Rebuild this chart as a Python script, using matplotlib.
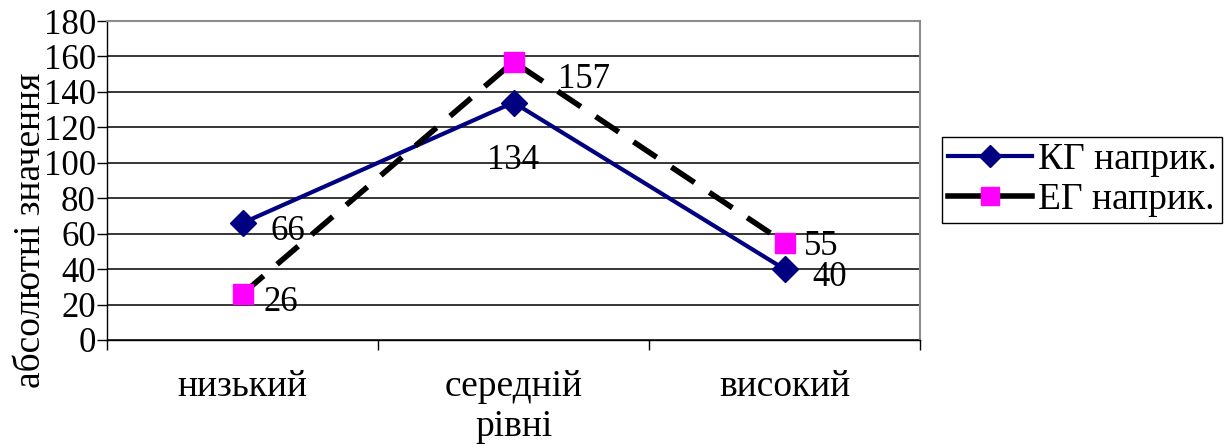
import matplotlib
matplotlib.use("Agg")
import matplotlib.pyplot as plt
from matplotlib.lines import Line2D

plt.rcParams['font.family'] = ['Liberation Serif', 'DejaVu Serif']

categories = ["низький", "середній", "високий"]
kg_values = [66, 134, 40]
eg_values = [26, 157, 55]
series_names = ["КГ наприк.", "ЕГ наприк."]
y_ticks = [0, 20, 40, 60, 80, 100, 120, 140, 160, 180]
x_title = "рівні"
y_title = "абсолютні значення"

FS = 25      # numbers
FS_TXT = 27  # words

fig = plt.figure(figsize=(12.31, 4.44), dpi=100)
ax = fig.add_axes([107 / 1231, 1 - 340 / 444, (920 - 107) / 1231, (340 - 21) / 444])

x = list(range(len(categories)))

ax.set_ylim(0, 180)
ax.set_xlim(-0.5, len(categories) - 0.5)

ax.set_yticks(y_ticks)
ax.set_yticklabels([str(v) for v in y_ticks], fontsize=FS)
ax.yaxis.grid(True, color="black", linewidth=1.1)
ax.set_axisbelow(True)

ax.set_xticks(x)
ax.set_xticklabels(categories, fontsize=FS_TXT)
ax.set_xticks([i - 0.5 for i in range(len(categories) + 1)], minor=True)
ax.tick_params(axis="x", which="major", length=0, pad=21)
ax.tick_params(axis="x", which="minor", length=7, width=1, direction="out")
ax.tick_params(axis="y", length=7, width=1, direction="out", pad=1)

for side in ("top", "right"):
    ax.spines[side].set_color("#8c8c8c")
    ax.spines[side].set_linewidth(1.5)
for side in ("left", "bottom"):
    ax.spines[side].set_color("black")
    ax.spines[side].set_linewidth(1.0)

ax.plot(x, kg_values, color="#000080", linewidth=3, marker="D",
        markersize=13, markerfacecolor="#000080", markeredgecolor="#000080",
        zorder=3)
ax.plot(x, eg_values, color="black", linewidth=4, linestyle=(0, (5, 3.2)),
        marker="s", markersize=14, markerfacecolor="#ff00ff",
        markeredgecolor="#ff00ff", zorder=4)

# value labels next to each point
kg_offsets = [(20, -6), (0, -42), (20, -6)]
kg_align = ["left", "center", "left"]
for xi, v, off, ha in zip(x, kg_values, kg_offsets, kg_align):
    ax.annotate(str(v), (xi, v), xytext=off, textcoords="offset points",
                ha=ha, va="center", fontsize=FS, zorder=5)

eg_offsets = [(15, -6), (32, -13), (14, -3)]
for xi, v, off in zip(x, eg_values, eg_offsets):
    ax.annotate(str(v), (xi, v), xytext=off, textcoords="offset points",
                ha="left", va="center", fontsize=FS, zorder=5)

ax.set_xlabel(x_title, fontsize=FS_TXT, labelpad=4)
ax.set_ylabel(y_title, fontsize=FS_TXT)
ax.yaxis.label.set_va("center")
ax.yaxis.set_label_coords(-0.094, 0.345)

h1 = Line2D([], [], color="#000080", linewidth=3, marker="D", markersize=11,
            markerfacecolor="#000080", markeredgecolor="#000080")
h2 = Line2D([], [], color="black", linewidth=4, marker="s", markersize=13,
            markerfacecolor="#ff00ff", markeredgecolor="#ff00ff")
leg = fig.legend([h1, h2], series_names, loc="upper left",
                 bbox_to_anchor=(942 / 1231, 1 - 137 / 444), borderaxespad=0,
                 fontsize=FS_TXT, frameon=True, fancybox=False, framealpha=1,
                 edgecolor="black", handlelength=2.25, handletextpad=0.15,
                 borderpad=0.15, labelspacing=0.15)
leg.get_frame().set_linewidth(1.0)

fig.savefig("out.png", dpi=100)
